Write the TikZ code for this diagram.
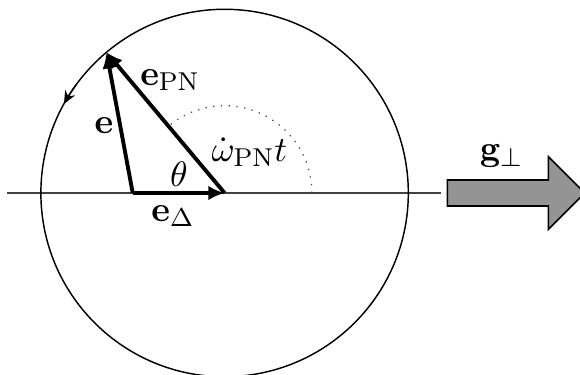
\documentclass[tikz,border=0pt]{standalone}
\usepackage{amsmath,amssymb}
\usetikzlibrary{arrows.meta}
\tikzset{
  vec/.style={-{Latex[length=5pt,width=4.5pt]},line width=1.2pt},
  axisline/.style={draw=black!75,line width=0.4pt},
  orbit/.style={draw=black,line width=0.45pt},
  guide/.style={dotted,draw=black!70,line width=0.4pt},
  push/.style={draw=black,fill=black!42,line width=0.5pt},
  lbl/.style={inner sep=1pt,font=\fontsize{11}{13}\selectfont},
}
\begin{document}
\begin{tikzpicture}
  \useasboundingbox (-2.445,-1.981) rectangle (3.869,2.101);
  \clip (-2.445,-1.981) rectangle (3.869,2.101);
  % punti
  \coordinate (O) at (0,0);
  \coordinate (D) at (-1,0);
  \coordinate (P) at (130:2);
  \coordinate (L) at (-2.37,0);
  \coordinate (R) at (2.36,0);
  % orbita
  \draw[axisline] (L) -- (R);
  \draw[orbit] (O) circle (2);
  \draw[orbit,-{Stealth[length=4pt,width=3.5pt]}] (144:2) arc[start angle=144,end angle=151,radius=2];
  \draw[guide] (0.95,0) arc[start angle=0,end angle=130,radius=0.95];
  % vettori
  \draw[vec] (D) -- (O);
  \draw[vec] (O) -- (P);
  \draw[vec] (D) -- (P);
  % etichette
  \node[lbl] (lpn) at (-0.594,1.23) {$\mathbf{e}_{\mathrm{PN}}$};
  \node[lbl] (le) at (-1.313,0.729) {$\mathbf{e}$};
  \node[lbl] (lth) at (-0.496,0.204) {$\theta$};
  \node[lbl] (lom) at (0.27,0.446) {$\dot{\omega}_{\mathrm{PN}}t$};
  \node[lbl] (ld) at (-0.562,-0.25) {$\mathbf{e}_{\Delta}$};
  \node[lbl] (lg) at (3.015,0.403) {$\mathbf{g}_{\perp}$};
  % forza
  \draw[push] (2.425,-0.1415) -- (3.524,-0.1415) -- (3.524,-0.397) -- (3.921,0)
    -- (3.524,0.397) -- (3.524,0.1415) -- (2.425,0.1415) -- cycle;
\end{tikzpicture}
\end{document}
